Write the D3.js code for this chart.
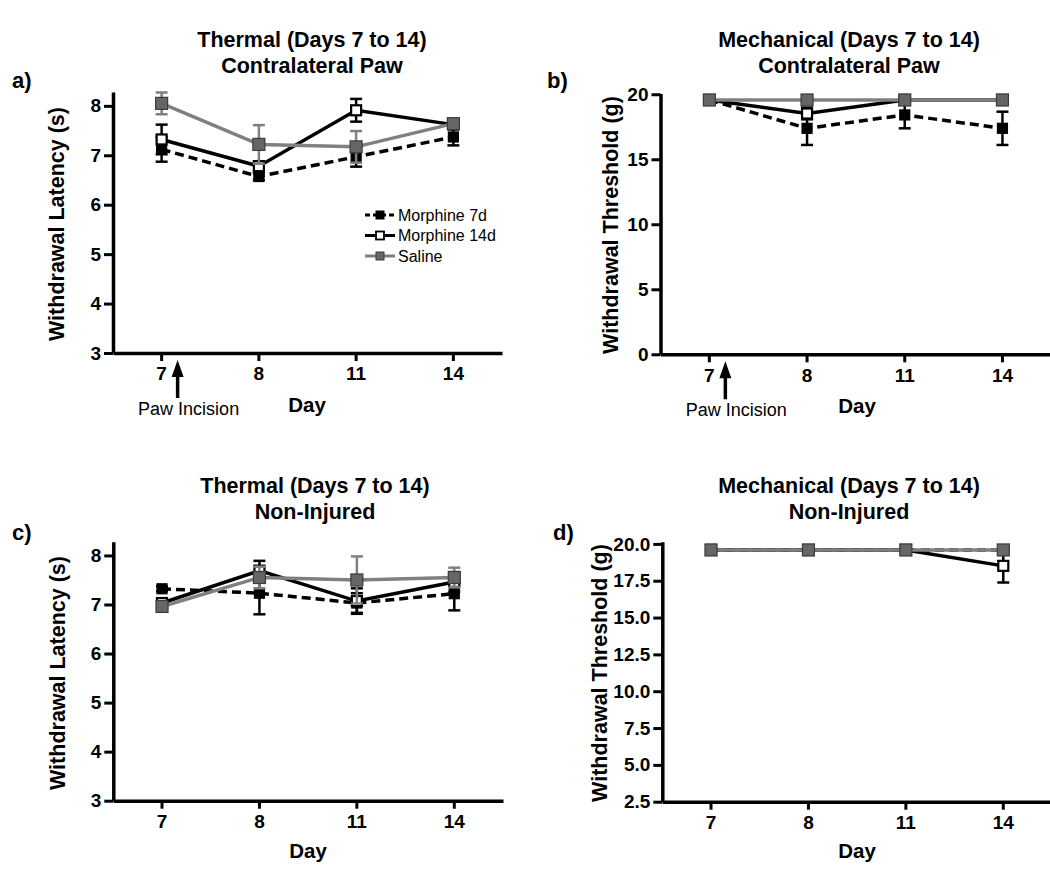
<!DOCTYPE html>
<html lang="en">
<head>
<meta charset="utf-8">
<title>Thermal and Mechanical withdrawal (Days 7 to 14)</title>
<script src="https://d3js.org/d3.v7.min.js"></script>
<style>
  body { margin: 0; background: #fff; }
  svg text { font-family: "Liberation Sans", Arial, sans-serif; }
</style>
</head>
<body>
<script>
  var w = 1050;
  var h = 880;

  // categories and series
  var days = ["7", "8", "11", "14"];
  var seriesNames = ["Morphine 7d", "Morphine 14d", "Saline"];

  // a) thermal, contralateral paw (s)
  var thermContraM7 = [7.12, 6.57, 6.97, 7.37];
  var thermContraM7Err = [0.25, 0.07, 0.2, 0.17];
  var thermContraM14 = [7.32, 6.78, 7.91, 7.62];
  var thermContraM14Err = [0.3, 0.1, 0.23, 0.06];
  var thermContraSal = [8.05, 7.22, 7.17, 7.64];
  var thermContraSalErr = [0.22, 0.39, 0.32, 0.05];

  // b) mechanical, contralateral paw (g)
  var mechContraM7 = [19.56, 17.38, 18.41, 17.38];
  var mechContraM7Err = [0, 1.28, 1.03, 1.28];
  var mechContraM14 = [19.56, 18.52, 19.56, 19.56];
  var mechContraM14Err = [0, 0.45, 0, 0];
  var mechContraSal = [19.56, 19.56, 19.56, 19.56];
  var mechContraSalErr = [0, 0, 0, 0];

  // c) thermal, non-injured (s)
  var thermNonM7 = [7.32, 7.23, 7.03, 7.22];
  var thermNonM7Err = [0.05, 0.43, 0.2, 0.34];
  var thermNonM14 = [7.03, 7.69, 7.07, 7.46];
  var thermNonM14Err = [0.05, 0.2, 0.26, 0.2];
  var thermNonSal = [6.96, 7.55, 7.5, 7.55];
  var thermNonSalErr = [0.05, 0.22, 0.48, 0.2];

  // d) mechanical, non-injured (g)
  var mechNonM7 = [19.59, 19.59, 19.59, 19.59];
  var mechNonM7Err = [0, 0, 0, 0];
  var mechNonM14 = [19.59, 19.59, 19.59, 18.51];
  var mechNonM14Err = [0, 0, 0, 1.13];
  var mechNonSal = [19.59, 19.59, 19.59, 19.59];
  var mechNonSalErr = [0, 0, 0, 0];

  // tick labels
  var thermTicks = [3, 4, 5, 6, 7, 8];
  var mechContraTicks = [0, 5, 10, 15, 20];
  var mechNonTicks = [2.5, 5, 7.5, 10, 12.5, 15, 17.5, 20];

  var grey = "#808080";
  // style per series: line colour, dash, marker fill, marker stroke, marker size
  var styles = [
    {color: "#000", dash: "9,5", fill: "#000", stroke: "#000", size: 10},
    {color: "#000", dash: null, fill: "#fff", stroke: "#000", size: 10},
    {color: grey, dash: null, fill: "#666", stroke: "#3c3c3c", size: 12}
  ];

  var svg = d3.select("body")
    .append("svg")
    .attr("width", w)
    .attr("height", h);

  function makeSeries(vals, errs) {
    return vals.map((v, i) => ({day: days[i], v: v, e: errs[i]}));
  }

  function drawPanel(p) {
    var g = svg.append("g");

    var x = d3.scaleBand()
      .domain(days)
      .range([p.x0, p.x1])
      .padding(0);
    var xc = d => x(d) + x.bandwidth() / 2;

    var y = d3.scaleLinear()
      .domain(p.yDomain)
      .range([p.y0, p.y1]);

    // axes
    var xAxis = d3.axisBottom(x).tickSize(8).tickSizeOuter(0).tickPadding(6);
    var yAxis = d3.axisLeft(y).tickValues(p.ticks).tickSize(9).tickSizeOuter(0)
      .tickPadding(3).tickFormat(p.fmt);

    var gx = g.append("g")
      .attr("transform", `translate(0, ${p.y0})`)
      .call(xAxis);
    var gy = g.append("g")
      .attr("transform", `translate(${p.x0}, 0)`)
      .call(yAxis);

    [gx, gy].forEach(a => {
      a.select(".domain").attr("stroke", "#000").attr("stroke-width", 3.5);
      a.selectAll(".tick line").attr("stroke", "#000").attr("stroke-width", 3);
      a.selectAll(".tick text")
        .attr("fill", "#000")
        .style("font-size", "19px")
        .style("font-weight", "bold");
    });

    // series: error bars, line, markers
    p.series.forEach((s, k) => {
      var st = styles[k];
      var data = makeSeries(s[0], s[1]);

      var eb = g.append("g")
        .attr("stroke", st.color)
        .attr("stroke-width", 2.5);
      data.filter(d => d.e > 0).forEach(d => {
        var cx = xc(d.day);
        eb.append("line")
          .attr("x1", cx).attr("x2", cx)
          .attr("y1", y(d.v - d.e)).attr("y2", y(d.v + d.e));
        [d.v - d.e, d.v + d.e].forEach(t => {
          eb.append("line")
            .attr("x1", cx - 6).attr("x2", cx + 6)
            .attr("y1", y(t)).attr("y2", y(t));
        });
      });

      var line = d3.line()
        .x(d => xc(d.day))
        .y(d => y(d.v));

      g.append("path")
        .datum(data)
        .attr("d", line)
        .attr("fill", "none")
        .attr("stroke", st.color)
        .attr("stroke-width", 3.5)
        .attr("stroke-dasharray", st.dash);

      g.selectAll(null)
        .data(data)
        .enter()
        .append("rect")
        .attr("x", d => xc(d.day) - st.size / 2)
        .attr("y", d => y(d.v) - st.size / 2)
        .attr("width", st.size)
        .attr("height", st.size)
        .attr("fill", st.fill)
        .attr("stroke", st.stroke)
        .attr("stroke-width", k == 1 ? 2.2 : 1.2);
    });

    // titles
    g.selectAll(null)
      .data(p.title)
      .enter()
      .append("text")
      .attr("x", p.titleX)
      .attr("y", (d, i) => p.titleY + i * 26)
      .attr("text-anchor", "middle")
      .style("font-size", "21.5px")
      .style("font-weight", "bold")
      .text(d => d);

    g.append("text")
      .attr("transform", `translate(${p.yTitleX}, ${p.yTitleY}) rotate(-90)`)
      .attr("text-anchor", "middle")
      .style("font-size", "21.5px")
      .style("font-weight", "bold")
      .text(p.yTitle);

    g.append("text")
      .attr("x", p.dayX)
      .attr("y", p.dayY)
      .attr("text-anchor", "middle")
      .style("font-size", "20.5px")
      .style("font-weight", "bold")
      .text("Day");

    g.append("text")
      .attr("x", p.labelX)
      .attr("y", p.labelY)
      .style("font-size", "22px")
      .style("font-weight", "bold")
      .text(p.label);

    // paw incision arrow
    if (p.paw) {
      var ax = xc(days[0]) + 16;
      var top = p.y0 + 7;
      g.append("path")
        .attr("d", `M${ax},${top} L${ax - 6},${top + 17} L${ax + 6},${top + 17} Z`)
        .attr("fill", "#000");
      g.append("line")
        .attr("x1", ax).attr("x2", ax)
        .attr("y1", top + 12).attr("y2", top + 38)
        .attr("stroke", "#000")
        .attr("stroke-width", 3.5);
      g.append("text")
        .attr("x", ax + 11)
        .attr("y", p.dayY + 3)
        .attr("text-anchor", "middle")
        .style("font-size", "18px")
        .text("Paw Incision");
    }

    // legend
    if (p.legend) {
      var lg = g.append("g");
      seriesNames.forEach((name, k) => {
        var st = styles[k];
        var ly = p.legend.y + k * 20.5;
        lg.append("line")
          .attr("x1", p.legend.x).attr("x2", p.legend.x + 30)
          .attr("y1", ly).attr("y2", ly)
          .attr("stroke", st.color)
          .attr("stroke-width", 3)
          .attr("stroke-dasharray", st.dash ? "5,3" : null);
        lg.append("rect")
          .attr("x", p.legend.x + 15 - 4).attr("y", ly - 4)
          .attr("width", 8).attr("height", 8)
          .attr("fill", st.fill)
          .attr("stroke", st.stroke)
          .attr("stroke-width", k == 1 ? 1.8 : 1);
        lg.append("text")
          .attr("x", p.legend.x + 33)
          .attr("y", ly + 5.5)
          .style("font-size", "16px")
          .text(name);
      });
    }
  }

  drawPanel({
    label: "a)", labelX: 12, labelY: 88,
    title: ["Thermal (Days 7 to 14)", "Contralateral Paw"], titleX: 312, titleY: 47,
    yTitle: "Withdrawal Latency (s)", yTitleX: 64, yTitleY: 224,
    x0: 113, x1: 502, y0: 353, y1: 92, yDomain: [3, 8.28],
    ticks: thermTicks, fmt: d3.format("d"),
    dayX: 307, dayY: 412, paw: true,
    legend: {x: 365, y: 215},
    series: [[thermContraM7, thermContraM7Err], [thermContraM14, thermContraM14Err], [thermContraSal, thermContraSalErr]]
  });

  drawPanel({
    label: "b)", labelX: 547, labelY: 88,
    title: ["Mechanical (Days 7 to 14)", "Contralateral Paw"], titleX: 849, titleY: 47,
    yTitle: "Withdrawal Threshold (g)", yTitleX: 618, yTitleY: 225,
    x0: 660.5, x1: 1051.3, y0: 354.3, y1: 93.6, yDomain: [0, 20.05],
    ticks: mechContraTicks, fmt: d3.format("d"),
    dayX: 857, dayY: 413, paw: true,
    series: [[mechContraM7, mechContraM7Err], [mechContraM14, mechContraM14Err], [mechContraSal, mechContraSalErr]]
  });

  drawPanel({
    label: "c)", labelX: 12, labelY: 540,
    title: ["Thermal (Days 7 to 14)", "Non-Injured"], titleX: 315, titleY: 493,
    yTitle: "Withdrawal Latency (s)", yTitleX: 65, yTitleY: 673,
    x0: 113.3, x1: 503, y0: 800.7, y1: 541.7, yDomain: [3, 8.28],
    ticks: thermTicks, fmt: d3.format("d"),
    dayX: 308, dayY: 858,
    series: [[thermNonM7, thermNonM7Err], [thermNonM14, thermNonM14Err], [thermNonSal, thermNonSalErr]]
  });

  drawPanel({
    label: "d)", labelX: 553, labelY: 540,
    title: ["Mechanical (Days 7 to 14)", "Non-Injured"], titleX: 849, titleY: 493,
    yTitle: "Withdrawal Threshold (g)", yTitleX: 607, yTitleY: 673,
    x0: 662.3, x1: 1052, y0: 801.7, y1: 541.7, yDomain: [2.5, 20.15],
    ticks: mechNonTicks, fmt: d3.format(".1f"),
    dayX: 857, dayY: 858,
    series: [[mechNonM7, mechNonM7Err], [mechNonM14, mechNonM14Err], [mechNonSal, mechNonSalErr]]
  });
</script>
</body>
</html>
